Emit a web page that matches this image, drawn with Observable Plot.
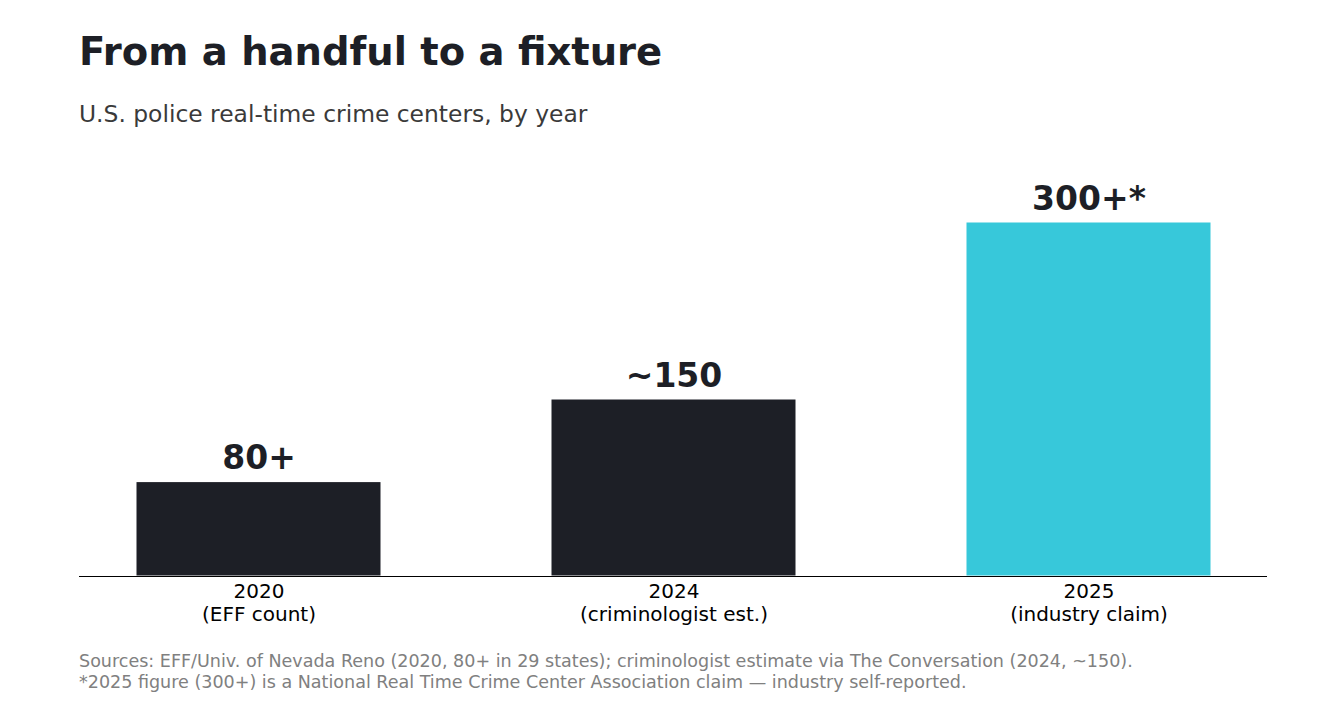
<!DOCTYPE html>
<html>
<head>
<meta charset="utf-8">
<script src="https://cdn.jsdelivr.net/npm/d3@7"></script>
<script src="https://cdn.jsdelivr.net/npm/@observablehq/plot@0.6"></script>
<style>
  html, body { margin: 0; padding: 0; background: #fff; }
  body { width: 1320px; height: 720px; position: relative; overflow: hidden; font-family: "DejaVu Sans", sans-serif; }
  #title { position: absolute; left: 79px; top: 33px; font-size: 38.5px; font-weight: bold; color: #1d1f26; line-height: 1; white-space: nowrap; }
  #subtitle { position: absolute; left: 79px; top: 103px; font-size: 23.4px; color: #3a3a3a; line-height: 1; white-space: nowrap; }
  #chart { position: absolute; left: 0; top: 150px; }
  #footer { position: absolute; left: 79px; top: 651px; font-size: 17.55px; color: #808080; line-height: 21px; white-space: nowrap; }
</style>
</head>
<body>
<div id="title">From a handful to a fixture</div>
<div id="subtitle">U.S. police real-time crime centers, by year</div>
<div id="chart"></div>
<div id="footer">Sources: EFF/Univ. of Nevada Reno (2020, 80+ in 29 states); criminologist estimate via The Conversation (2024, ~150).<br>*2025 figure (300+) is a National Real Time Crime Center Association claim — industry self-reported.</div>
<script>
const years = ["2020", "2024", "2025"];
const notes = ["EFF count", "criminologist est.", "industry claim"];
const values = [80, 150, 300];
const valueLabels = ["80+", "~150", "300+*"];
const highlightYear = "2025";

const data = years.map((y, i) => ({year: y, note: notes[i], value: values[i], label: valueLabels[i]}));
const noteOf = Object.fromEntries(data.map(d => [d.year, d.note]));

const dark = "#1d1f26";
const cyan = "#37c8da";

const chart = Plot.plot({
  width: 1320,
  height: 486,
  marginLeft: 79,
  marginRight: 53,
  marginTop: 72,
  marginBottom: 60,
  style: {fontFamily: "DejaVu Sans, sans-serif", background: "#fff", color: "#000"},
  x: {domain: years, paddingInner: 0.41, paddingOuter: 0.135, label: null},
  y: {domain: [0, 300], axis: null},
  marks: [
    Plot.barY(data, {x: "year", y: "value", fill: d => d.year === highlightYear ? cyan : dark, inset: 0.5}),
    Plot.ruleY([0], {stroke: "#000", strokeWidth: 1}),
    Plot.text(data, {x: "year", y: "value", text: "label", dy: -13, lineAnchor: "bottom", fontSize: 33, fontWeight: "bold", fill: dark}),
    Plot.axisX({tickSize: 0, tickPadding: 6, fontSize: 20, fill: "#000", tickFormat: y => `${y}\n(${noteOf[y]})`, lineHeight: 1.12, label: null})
  ]
});
document.getElementById("chart").appendChild(chart);
</script>
</body>
</html>
